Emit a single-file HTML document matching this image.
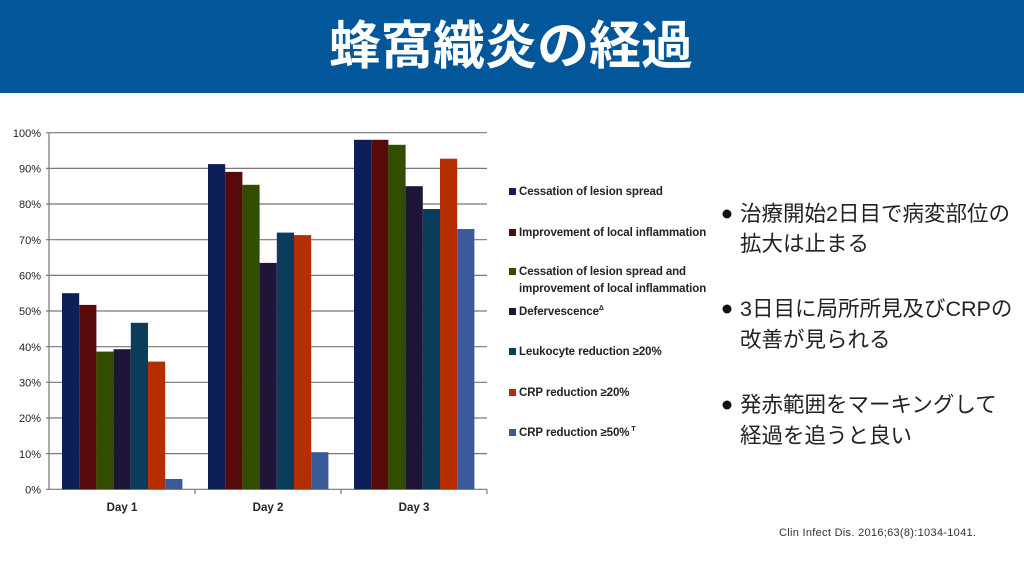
<!DOCTYPE html>
<html><head><meta charset="utf-8"><style>
body{margin:0;width:1024px;height:576px;background:#fff;overflow:hidden}
svg{display:block}
</style></head><body>
<svg width="1024" height="576" xmlns="http://www.w3.org/2000/svg" font-family="'Liberation Sans','Noto Sans CJK JP',sans-serif">
<rect x="0" y="0" width="1024" height="93" fill="#02569a"/>
<text x="511" y="64" font-size="52" font-weight="bold" fill="#fff" text-anchor="middle" font-family="'Noto Sans CJK JP',sans-serif">蜂窩織炎の経過</text>
<g stroke="#777" stroke-width="1.2">
<line x1="46" y1="132.7" x2="487" y2="132.7"/>
<line x1="46" y1="168.4" x2="487" y2="168.4"/>
<line x1="46" y1="204" x2="487" y2="204"/>
<line x1="46" y1="239.7" x2="487" y2="239.7"/>
<line x1="46" y1="275.4" x2="487" y2="275.4"/>
<line x1="46" y1="311" x2="487" y2="311"/>
<line x1="46" y1="346.7" x2="487" y2="346.7"/>
<line x1="46" y1="382.3" x2="487" y2="382.3"/>
<line x1="46" y1="418" x2="487" y2="418"/>
<line x1="46" y1="453.6" x2="487" y2="453.6"/>
<line x1="46" y1="489.3" x2="487" y2="489.3"/>
<line x1="49" y1="132.7" x2="49" y2="489.3"/>
<line x1="195" y1="489.3" x2="195" y2="494"/>
<line x1="341" y1="489.3" x2="341" y2="494"/>
<line x1="487" y1="489.3" x2="487" y2="494"/>
</g>
<g font-size="11" fill="#222" text-anchor="end">
<text x="41" y="137">100%</text><text x="41" y="172.5">90%</text><text x="41" y="208">80%</text><text x="41" y="244">70%</text><text x="41" y="279.5">60%</text><text x="41" y="315">50%</text><text x="41" y="351">40%</text><text x="41" y="386.5">30%</text><text x="41" y="422">20%</text><text x="41" y="458">10%</text><text x="41" y="493.5">0%</text>
</g>
<g font-size="11.5" fill="#222" text-anchor="middle" font-weight="bold">
<text x="122" y="511">Day 1</text><text x="268" y="511">Day 2</text><text x="414" y="511">Day 3</text>
</g>
<g>
<rect x="62" y="293.2" width="17.2" height="196.1" fill="#0c1f57"/>
<rect x="79.2" y="304.9" width="17.2" height="184.4" fill="#560a0a"/>
<rect x="96.4" y="351.6" width="17.2" height="137.7" fill="#334d00"/>
<rect x="113.6" y="349.2" width="17.2" height="140.1" fill="#1f1538"/>
<rect x="130.8" y="322.8" width="17.2" height="166.5" fill="#0a3d5a"/>
<rect x="148" y="361.6" width="17.2" height="127.7" fill="#b52e00"/>
<rect x="165.2" y="479" width="17.2" height="10.3" fill="#3a5a9a"/>
<rect x="208" y="164.1" width="17.2" height="325.2" fill="#0c1f57"/>
<rect x="225.2" y="171.9" width="17.2" height="317.4" fill="#560a0a"/>
<rect x="242.4" y="184.8" width="17.2" height="304.5" fill="#334d00"/>
<rect x="259.6" y="262.9" width="17.2" height="226.4" fill="#1f1538"/>
<rect x="276.8" y="232.6" width="17.2" height="256.7" fill="#0a3d5a"/>
<rect x="294" y="235.1" width="17.2" height="254.2" fill="#b52e00"/>
<rect x="311.2" y="452.2" width="17.2" height="37.1" fill="#3a5a9a"/>
<rect x="354" y="139.8" width="17.2" height="349.5" fill="#0c1f57"/>
<rect x="371.2" y="139.8" width="17.2" height="349.5" fill="#560a0a"/>
<rect x="388.4" y="144.8" width="17.2" height="344.5" fill="#334d00"/>
<rect x="405.6" y="186.2" width="17.2" height="303.1" fill="#1f1538"/>
<rect x="422.8" y="209" width="17.2" height="280.3" fill="#0a3d5a"/>
<rect x="440" y="158.7" width="17.2" height="330.6" fill="#b52e00"/>
<rect x="457.2" y="229" width="17.2" height="260.3" fill="#3a5a9a"/>
</g>
<g font-size="11.5" fill="#222" font-weight="bold" letter-spacing="-0.1">
<rect x="509" y="188" width="7" height="7" fill="#0c1f57"/><text x="519" y="195">Cessation of lesion spread</text>
<rect x="509" y="229" width="7" height="7" fill="#560a0a"/><text x="519" y="236">Improvement of local inflammation</text>
<rect x="509" y="268" width="7" height="7" fill="#334d00"/><text x="519" y="275">Cessation of lesion spread and</text><text x="519" y="292">improvement of local inflammation</text>
<rect x="509" y="308" width="7" height="7" fill="#1f1538"/><text x="519" y="315">Defervescence<tspan font-size="7" dy="-5">Δ</tspan></text>
<rect x="509" y="348" width="7" height="7" fill="#0a3d5a"/><text x="519" y="355">Leukocyte reduction ≥20%</text>
<rect x="509" y="389" width="7" height="7" fill="#b52e00"/><text x="519" y="396">CRP reduction ≥20%</text>
<rect x="509" y="429" width="7" height="7" fill="#3a5a9a"/><text x="519" y="436">CRP reduction ≥50%<tspan font-size="7" dy="-5" dx="2">T</tspan></text>
</g>
<g font-size="21.5" fill="#222">
<circle cx="727" cy="214" r="4.5" fill="#111"/>
<text x="740" y="221">治療開始2日目で病変部位の</text>
<text x="740" y="251">拡大は止まる</text>
<circle cx="727" cy="309" r="4.5" fill="#111"/>
<text x="740" y="316">3日目に局所所見及びCRPの</text>
<text x="740" y="347">改善が見られる</text>
<circle cx="727" cy="405" r="4.5" fill="#111"/>
<text x="740" y="412">発赤範囲をマーキングして</text>
<text x="740" y="443">経過を追うと良い</text>
</g>
<text x="779" y="536" font-size="11" fill="#333" letter-spacing="0.3">Clin Infect Dis. 2016;63(8):1034-1041.</text>
</svg>
</body></html>
